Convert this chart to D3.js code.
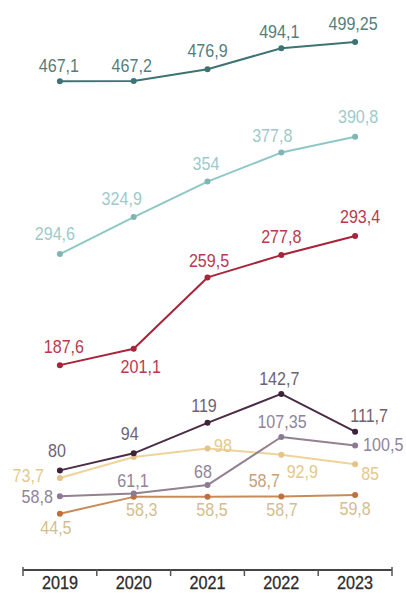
<!DOCTYPE html>
<html>
<head>
<meta charset="utf-8">
<script src="https://cdn.jsdelivr.net/npm/d3@7"></script>
<style>
  html, body { margin: 0; padding: 0; background: #fff; }
  svg { display: block; }
  text { font-family: "Liberation Sans", Arial, sans-serif; }
</style>
</head>
<body>
<svg id="chart" width="406" height="593"></svg>
<script>
// Years on the horizontal axis
const years = ["2019", "2020", "2021", "2022", "2023"];

// One value list per line, from the top line down
const darkTeal  = [467.1, 467.2, 476.9, 494.1, 499.25];
const lightTeal = [294.6, 324.9, 354, 377.8, 390.8];
const crimson   = [187.6, 201.1, 259.5, 277.8, 293.4];
const plum      = [80, 94, 119, 142.7, 111.7];
const sand      = [73.7, 91, 98, 92.9, 85];
const mauve     = [58.8, 61.1, 68, 107.35, 100.5];
const amber     = [44.5, 58.3, 58.5, 58.7, 59.8];

// Drawing setup: colours, vertical offset of each line, and where its value labels sit
const seriesStyle = [
  { values: darkTeal,  line: "#3d7373", dot: "#3d7373", text: "#557d7d", shift: 83,
    labels: [[0,-1,-9],[1,-2,-9],[2,0,-12],[3,-2,-10],[4,-2,-11.5]] },
  { values: lightTeal, line: "#8fc7c7", dot: "#7fb5b5", text: "#9dcaca", shift: 45.5,
    labels: [[0,-5,-14],[1,-12,-12],[2,-1.5,-11.6],[3,-9,-10.6],[4,3,-13.7]] },
  { values: crimson,   line: "#a82439", dot: "#a82439", text: "#b73a4e", shift: 26,
    labels: [[0,4,-12],[1,7,24],[2,1.5,-10.4],[3,0,-12],[4,5,-13]] },
  { values: sand,      line: "#f0d39a", dot: "#e2c48a", text: "#e5c88c", shift: 0,
    labels: [[0,-16,4,"end"],[2,15.5,3.6],[3,21,23],[4,15,16]] },
  { values: amber,     line: "#c98a58", dot: "#c0703e", text: "#d3bd8f", shift: 0,
    labels: [[0,-4,20],[1,8,19],[2,4.5,19.4],[3,0.7,19.6],[4,0,20],[3,-17,-9.4,"middle","#c9a07a"]] },
  { values: mauve,     line: "#94808f", dot: "#8c7a95", text: "#8f8498", shift: 0,
    labels: [[0,-7,6.5,"end"],[1,-0.7,-6.5],[2,-4.5,-7],[3,0.7,-9],[4,8,5.6,"start"]] },
  { values: plum,      line: "#4b2c45", dot: "#3e2239", text: "#6d6273", shift: 0,
    labels: [[0,-3,-13.4],[1,-4,-13.3],[2,-3.5,-10.8],[3,-2,-9],[4,14,-9.7]] }
];

const svg = d3.select("#chart");
const axisY = 570;
const squeeze = 0.92;   // slightly narrowed lettering

const x = d3.scaleBand().domain(years).range([23, 392]).padding(0);
const y = d3.scaleLinear().domain([0, 100]).range([568, 446]);

const fmt = v => String(v).replace(".", ",");
const cx = i => x(years[i]) + x.bandwidth() / 2;

const line = d3.line()
  .x((d, i) => cx(i))
  .y(d => y(d));

seriesStyle.forEach(s => {
  const g = svg.append("g").attr("transform", `translate(0,${s.shift})`);

  g.append("path")
    .datum(s.values)
    .attr("fill", "none")
    .attr("stroke", s.line)
    .attr("stroke-width", 2)
    .attr("stroke-linejoin", "round")
    .attr("d", line);

  g.selectAll("circle")
    .data(s.values)
    .join("circle")
    .attr("cx", (d, i) => cx(i))
    .attr("cy", d => y(d))
    .attr("r", 3)
    .attr("fill", s.dot);

  g.selectAll("text.val")
    .data(s.labels)
    .join("text")
    .attr("class", "val")
    .attr("transform", l =>
      `translate(${cx(l[0]) + l[1]},${y(s.values[l[0]]) + l[2]}) scale(${squeeze},1)`)
    .attr("text-anchor", l => l[3] || "middle")
    .attr("fill", l => l[4] || s.text)
    .attr("font-size", 17.5)
    .text(l => fmt(s.values[l[0]]));
});

// Year axis with separators between the years
const axis = svg.append("g")
  .attr("transform", `translate(0,${axisY})`);

axis.append("line")
  .attr("x1", x.range()[0]).attr("x2", x.range()[1])
  .attr("stroke", "#444").attr("stroke-width", 2);

const edges = years.map(yr => x(yr)).concat([x.range()[1]]);
axis.selectAll("line.sep")
  .data(edges)
  .join("line")
  .attr("class", "sep")
  .attr("x1", d => d).attr("x2", d => d)
  .attr("y1", (d, i) => (i === 0 || i === edges.length - 1) ? -3 : -1)
  .attr("y2", 6)
  .attr("stroke", "#555").attr("stroke-width", 1.5);

axis.selectAll("text.year")
  .data(years)
  .join("text")
  .attr("class", "year")
  .attr("transform", d => `translate(${x(d) + x.bandwidth() / 2},18.5) scale(0.9,1)`)
  .attr("text-anchor", "middle")
  .attr("fill", "#2b2b2b")
  .attr("stroke", "#2b2b2b")
  .attr("stroke-width", 0.3)
  .attr("font-size", 18)
  .text(d => d);
</script>
</body>
</html>
